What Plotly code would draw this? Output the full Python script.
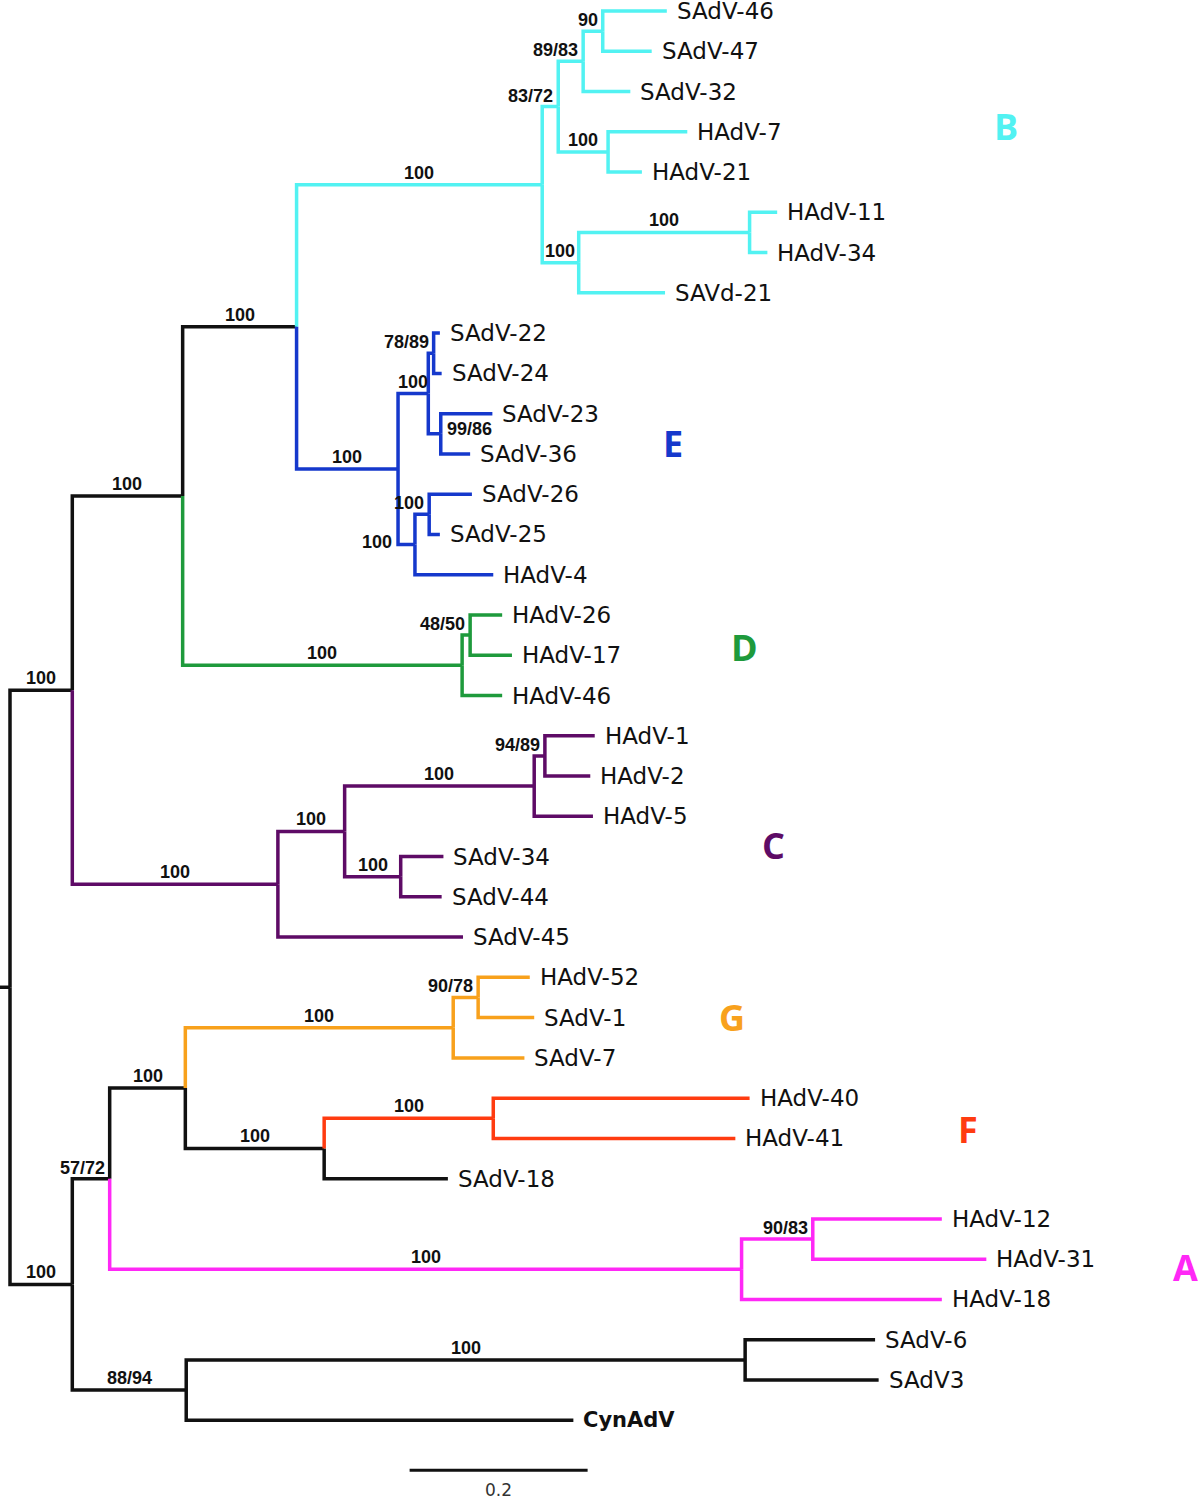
import plotly.graph_objects as go

# ---------------- data ----------------
# internal nodes: name, parent, distance from root (substitutions/site)
node_names = ["root", "N1", "N2", "N3", "B0", "B1", "B2", "B4", "B3", "B5", "B6",
              "E0", "E1", "E3", "E4", "E2", "E5", "D0", "D1",
              "C0", "C1", "C2", "C4", "C3",
              "N8", "N4", "N5", "G0", "G1", "N6", "F1", "A0", "A1", "N7", "N9"]
node_parent = [None, "root", "N1", "N2", "N3", "B0", "B1", "B2", "B1", "B0", "B5",
               "N3", "E0", "E1", "E1", "E0", "E2", "N2", "D0",
               "N1", "C0", "C1", "C2", "C1",
               "root", "N8", "N4", "N5", "G0", "N5", "N6", "N4", "A0", "N8", "N7"]
node_depth = [0.000, 0.070, 0.194, 0.322, 0.598, 0.616, 0.644, 0.666, 0.672, 0.639, 0.831,
              0.436, 0.470, 0.476, 0.484, 0.455, 0.471, 0.508, 0.517,
              0.301, 0.376, 0.589, 0.601, 0.439,
              0.070, 0.112, 0.197, 0.498, 0.526, 0.353, 0.543, 0.822, 0.902, 0.198, 0.826]

leaf_names = ["SAdV-46", "SAdV-47", "SAdV-32", "HAdV-7", "HAdV-21", "HAdV-11", "HAdV-34", "SAVd-21",
              "SAdV-22", "SAdV-24", "SAdV-23", "SAdV-36", "SAdV-26", "SAdV-25", "HAdV-4",
              "HAdV-26", "HAdV-17", "HAdV-46",
              "HAdV-1", "HAdV-2", "HAdV-5", "SAdV-34", "SAdV-44", "SAdV-45",
              "HAdV-52", "SAdV-1", "SAdV-7", "HAdV-40", "HAdV-41", "SAdV-18",
              "HAdV-12", "HAdV-31", "HAdV-18", "SAdV-6", "SAdV3", "CynAdV"]
leaf_parent = ["B4", "B4", "B2", "B3", "B3", "B6", "B6", "B5",
               "E3", "E3", "E4", "E4", "E5", "E5", "E2",
               "D1", "D1", "D0",
               "C4", "C4", "C2", "C3", "C3", "C0",
               "G1", "G1", "G0", "F1", "F1", "N6",
               "A1", "A1", "A0", "N9", "N9", "N7"]
leaf_depth = [0.738, 0.721, 0.697, 0.761, 0.710, 0.862, 0.851, 0.736,
              0.483, 0.485, 0.542, 0.517, 0.519, 0.483, 0.543,
              0.553, 0.564, 0.553,
              0.657, 0.652, 0.655, 0.487, 0.485, 0.509,
              0.584, 0.589, 0.578, 0.831, 0.815, 0.492,
              1.047, 1.097, 1.047, 0.972, 0.976, 0.633]

# bootstrap support values: node, text, placement
support_nodes = ["N1", "N2", "N3", "B0", "B1", "B2", "B4", "B3", "B5", "B6",
                 "E0", "E1", "E3", "E4", "E5", "E2", "D0", "D1",
                 "C0", "C1", "C2", "C3", "C4",
                 "N8", "N4", "N5", "G0", "G1", "N6", "F1", "A0", "A1", "N7", "N9"]
support_text = ["100", "100", "100", "100", "83/72", "89/83", "90", "100", "100", "100",
                "100", "100", "78/89", "99/86", "100", "100", "100", "48/50",
                "100", "100", "100", "100", "94/89",
                "100", "57/72", "100", "100", "90/78", "100", "100", "100", "90/83", "88/94", "100"]
support_mode = ["m", "m", "m", "m", "r", "r", "r", "m", "m", "m",
                "m", "m", "r", "l", "r", "p", "m", "r",
                "m", "m", "m", "m", "r",
                "m", "r", "m", "m", "r", "m", "m", "m", "r", "m", "m"]

# clades
clade_nodes = ["B0", "E0", "D0", "C0", "G0", "F1", "A0"]
clade_letters = ["B", "E", "D", "C", "G", "F", "A"]
clade_colors = ["#52F2F2", "#1538CC", "#1E9A3C", "#5E0B66", "#F8A11C", "#FF3B10", "#FF28F6"]
clade_letter_x = [1.119, 0.745, 0.825, 0.858, 0.811, 1.076, 1.321]
clade_letter_y = [2.88, 10.73, 15.80, 20.72, 24.99, 27.79, 31.20]

scale_bar_len = 0.2
scale_bar_start = 0.449

# ---------------- tree layout ----------------
parent = {}
depth = {}
for n, p, d in zip(node_names, node_parent, node_depth):
    parent[n] = p
    depth[n] = d
for n, p, d in zip(leaf_names, leaf_parent, leaf_depth):
    parent[n] = p
    depth[n] = d

children = {n: [] for n in node_names}
for n in node_names[1:]:
    children[parent[n]].append(n)
for n in leaf_names:
    children[parent[n]].append(n)

ypos = {n: float(i) for i, n in enumerate(leaf_names)}


def get_y(n):
    if n in ypos:
        return ypos[n]
    ys = [get_y(c) for c in children[n]]
    ypos[n] = (min(ys) + max(ys)) / 2
    return ypos[n]


get_y("root")

clade_color_of = dict(zip(clade_nodes, clade_colors))


def color_of(n):
    m = n
    while m is not None:
        if m in clade_color_of:
            return clade_color_of[m]
        m = parent[m]
    return "#111111"


segs = {}
for n in node_names[1:] + leaf_names:
    p = parent[n]
    c = color_of(n)
    xs, ys = segs.setdefault(c, ([], []))
    xs += [depth[p], depth[p], depth[n], None]
    ys += [ypos[p], ypos[n], ypos[n], None]

PX = 890.0  # pixels per unit
fig = go.Figure()

# root stub
fig.add_trace(go.Scatter(x=[-10 / PX, 0], y=[ypos["root"]] * 2, mode="lines",
                         line=dict(color="#111111", width=3.5), hoverinfo="skip", showlegend=False))
for c, (xs, ys) in segs.items():
    fig.add_trace(go.Scatter(x=xs, y=ys, mode="lines",
                             line=dict(color=c, width=3.5), hoverinfo="skip", showlegend=False))

# scale bar
sb_y = 36.24
fig.add_trace(go.Scatter(x=[scale_bar_start, scale_bar_start + scale_bar_len], y=[sb_y, sb_y],
                         mode="lines", line=dict(color="#111111", width=3), hoverinfo="skip",
                         showlegend=False))

ann = []
for n in leaf_names:
    txt = "<b>%s</b>" % n if n == "CynAdV" else n
    ann.append(dict(x=depth[n], y=ypos[n], text=txt, xanchor="left", yanchor="middle",
                    xshift=8, showarrow=False,
                    font=dict(family="DejaVu Sans", size=23 if n != "CynAdV" else 21,
                              color="#111111")))

for n, t, m in zip(support_nodes, support_text, support_mode):
    p = parent[n]
    f = dict(family="Liberation Sans", size=18, color="#111111")
    if m == "m":
        a = dict(x=(depth[p] + depth[n]) / 2, y=ypos[n], xanchor="center", yshift=12)
    elif m == "r":
        a = dict(x=depth[n], y=ypos[n], xanchor="right", xshift=-3, yshift=11)
    elif m == "l":
        a = dict(x=depth[n], y=ypos[n], xanchor="left", xshift=4, yshift=5)
    else:
        a = dict(x=depth[p], y=ypos[n], xanchor="right", xshift=-4, yshift=3)
    a.update(text="<b>%s</b>" % t, yanchor="middle", showarrow=False, font=f)
    ann.append(a)

for L, c, x, y in zip(clade_letters, clade_colors, clade_letter_x, clade_letter_y):
    ann.append(dict(x=x, y=y, text="<b>%s</b>" % L, showarrow=False, xanchor="center",
                    yanchor="middle", font=dict(family="Open Sans", size=36, color=c)))

ann.append(dict(x=scale_bar_start + scale_bar_len / 2, y=36.74, text=str(scale_bar_len),
                showarrow=False, xanchor="center", yanchor="middle",
                font=dict(family="DejaVu Sans", size=17, color="#333333")))

fig.update_layout(
    width=1200, height=1500,
    margin=dict(l=0, r=0, t=0, b=0),
    paper_bgcolor="white", plot_bgcolor="white",
    annotations=ann,
    xaxis=dict(range=[-10 / PX, 1190 / PX], visible=False, fixedrange=True),
    yaxis=dict(range=[36.98, -0.273], visible=False, fixedrange=True),
)

fig.write_html("out.html", config={"displayModeBar": False},
               post_script="document.body.style.margin='0';")
